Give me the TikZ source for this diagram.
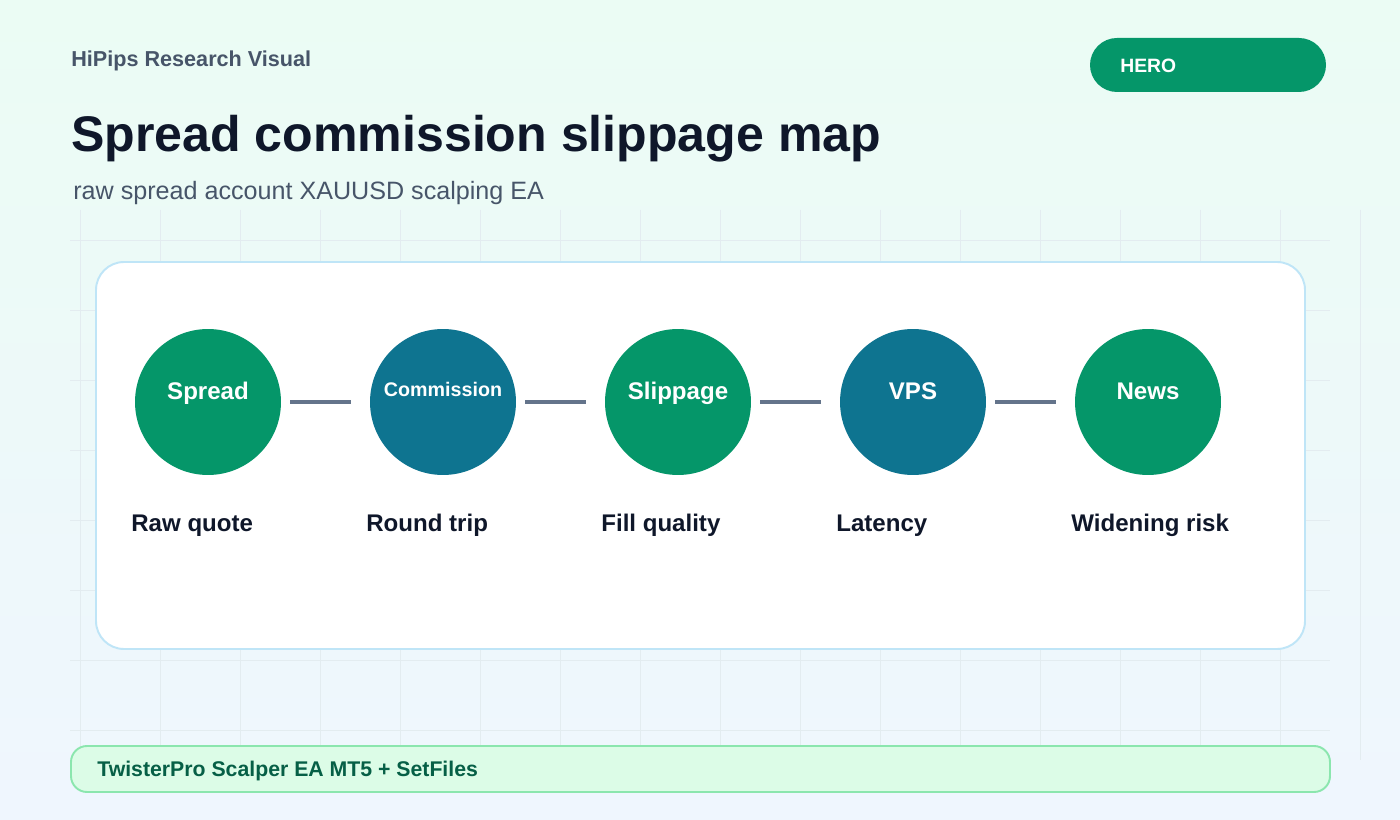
\documentclass[tikz,border=0pt]{standalone}
\usepackage{fontspec}
\setmainfont{Liberation Sans}
\definecolor{bgtop}{HTML}{EBFCF4}
\definecolor{bgbot}{HTML}{EFF6FE}
\definecolor{gridline}{HTML}{E3ECF0}
\definecolor{cardline}{HTML}{BFE5F7}
\definecolor{stagegreen}{HTML}{059669}
\definecolor{stageteal}{HTML}{0E7490}
\definecolor{linkgray}{HTML}{64748B}
\definecolor{inktext}{HTML}{0F172A}
\definecolor{slatetext}{HTML}{475569}
\definecolor{footfill}{HTML}{DCFCE7}
\definecolor{footline}{HTML}{8BE6AE}
\definecolor{foottext}{HTML}{065F46}

\begin{document}
\begin{tikzpicture}[x=0.02cm, y=-0.02cm,
  stage/.style={circle, minimum size=2.92cm, inner sep=0pt, draw=none},
  stagetext/.style={text=white, inner sep=0pt, font=\bfseries\fontsize{13.7}{16}\selectfont, anchor=base},
  note/.style={text=inktext, inner sep=0pt, font=\bfseries\fontsize{13.7}{16}\selectfont, anchor=base west},
  plain/.style={inner sep=0pt, anchor=base west},
  link/.style={draw=linkgray, line width=2.8pt, shorten <=0.18cm, shorten >=0.38cm}]
  % Coordinates
  \coordinate (P1) at (208,402);
  \coordinate (P2) at (443,402);
  \coordinate (P3) at (678,402);
  \coordinate (P4) at (913,402);
  \coordinate (P5) at (1148,402);

  % Background
  \useasboundingbox (0,0) rectangle (1400,820);
  \shade[top color=bgtop, bottom color=bgbot] (0,0) rectangle (1400,820);
  \foreach \gx in {80,160,...,1360}
    \draw[gridline, line width=0.55pt] (\gx,210) -- (\gx,760);
  \foreach \gy in {240,310,...,730}
    \draw[gridline, line width=0.55pt] (70,\gy) -- (1330,\gy);

  % Header
  \node[plain, text=slatetext, font=\bfseries\fontsize{12.3}{14}\selectfont] (brand) at (71,67) {HiPips Research Visual};
  \node[plain, text=inktext, font=\bfseries\fontsize{28.5}{34}\selectfont] (title) at (71,152) {Spread commission slippage map};
  \node[plain, text=slatetext, font=\fontsize{14.3}{17}\selectfont] (subtitle) at (73,200) {raw spread account XAUUSD scalping EA};
  \draw[fill=stagegreen, draw=none, rounded corners=0.54cm] (1090,38) rectangle (1326,92);
  \node[plain, text=white, font=\bfseries\fontsize{11}{13}\selectfont] (badge) at (1120,73) {HERO};

  % Card
  \draw[fill=white, draw=cardline, line width=1.1pt, rounded corners=0.56cm] (96,262) rectangle (1305,649);

  % Drawing
  \node[stage, fill=stagegreen] (S1) at (P1) {};
  \node[stage, fill=stageteal] (S2) at (P2) {};
  \node[stage, fill=stagegreen] (S3) at (P3) {};
  \node[stage, fill=stageteal] (S4) at (P4) {};
  \node[stage, fill=stagegreen] (S5) at (P5) {};
  \draw[link] (S1.east) -- (S2.west);
  \draw[link] (S2.east) -- (S3.west);
  \draw[link] (S3.east) -- (S4.west);
  \draw[link] (S4.east) -- (S5.west);
  \node[stagetext] (T1) at (208,400) {Spread};
  \node[stagetext, font=\bfseries\fontsize{11.2}{13}\selectfont] (T2) at (443,397) {Commission};
  \node[stagetext] (T3) at (678,400) {Slippage};
  \node[stagetext] (T4) at (913,400) {VPS};
  \node[stagetext] (T5) at (1148,400) {News};
  \node[note] (N1) at (131,532) {Raw quote};
  \node[note] (N2) at (366,532) {Round trip};
  \node[note] (N3) at (601,532) {Fill quality};
  \node[note] (N4) at (836,532) {Latency};
  \node[note] (N5) at (1071,532) {Widening risk};

  % Footer
  \draw[fill=footfill, draw=footline, line width=1.1pt, rounded corners=0.32cm] (71,746) rectangle (1330,792);
  \node[plain, text=foottext, font=\bfseries\fontsize{12.1}{14}\selectfont] (footer) at (97,776) {TwisterPro Scalper EA MT5 + SetFiles};
\end{tikzpicture}
\end{document}
